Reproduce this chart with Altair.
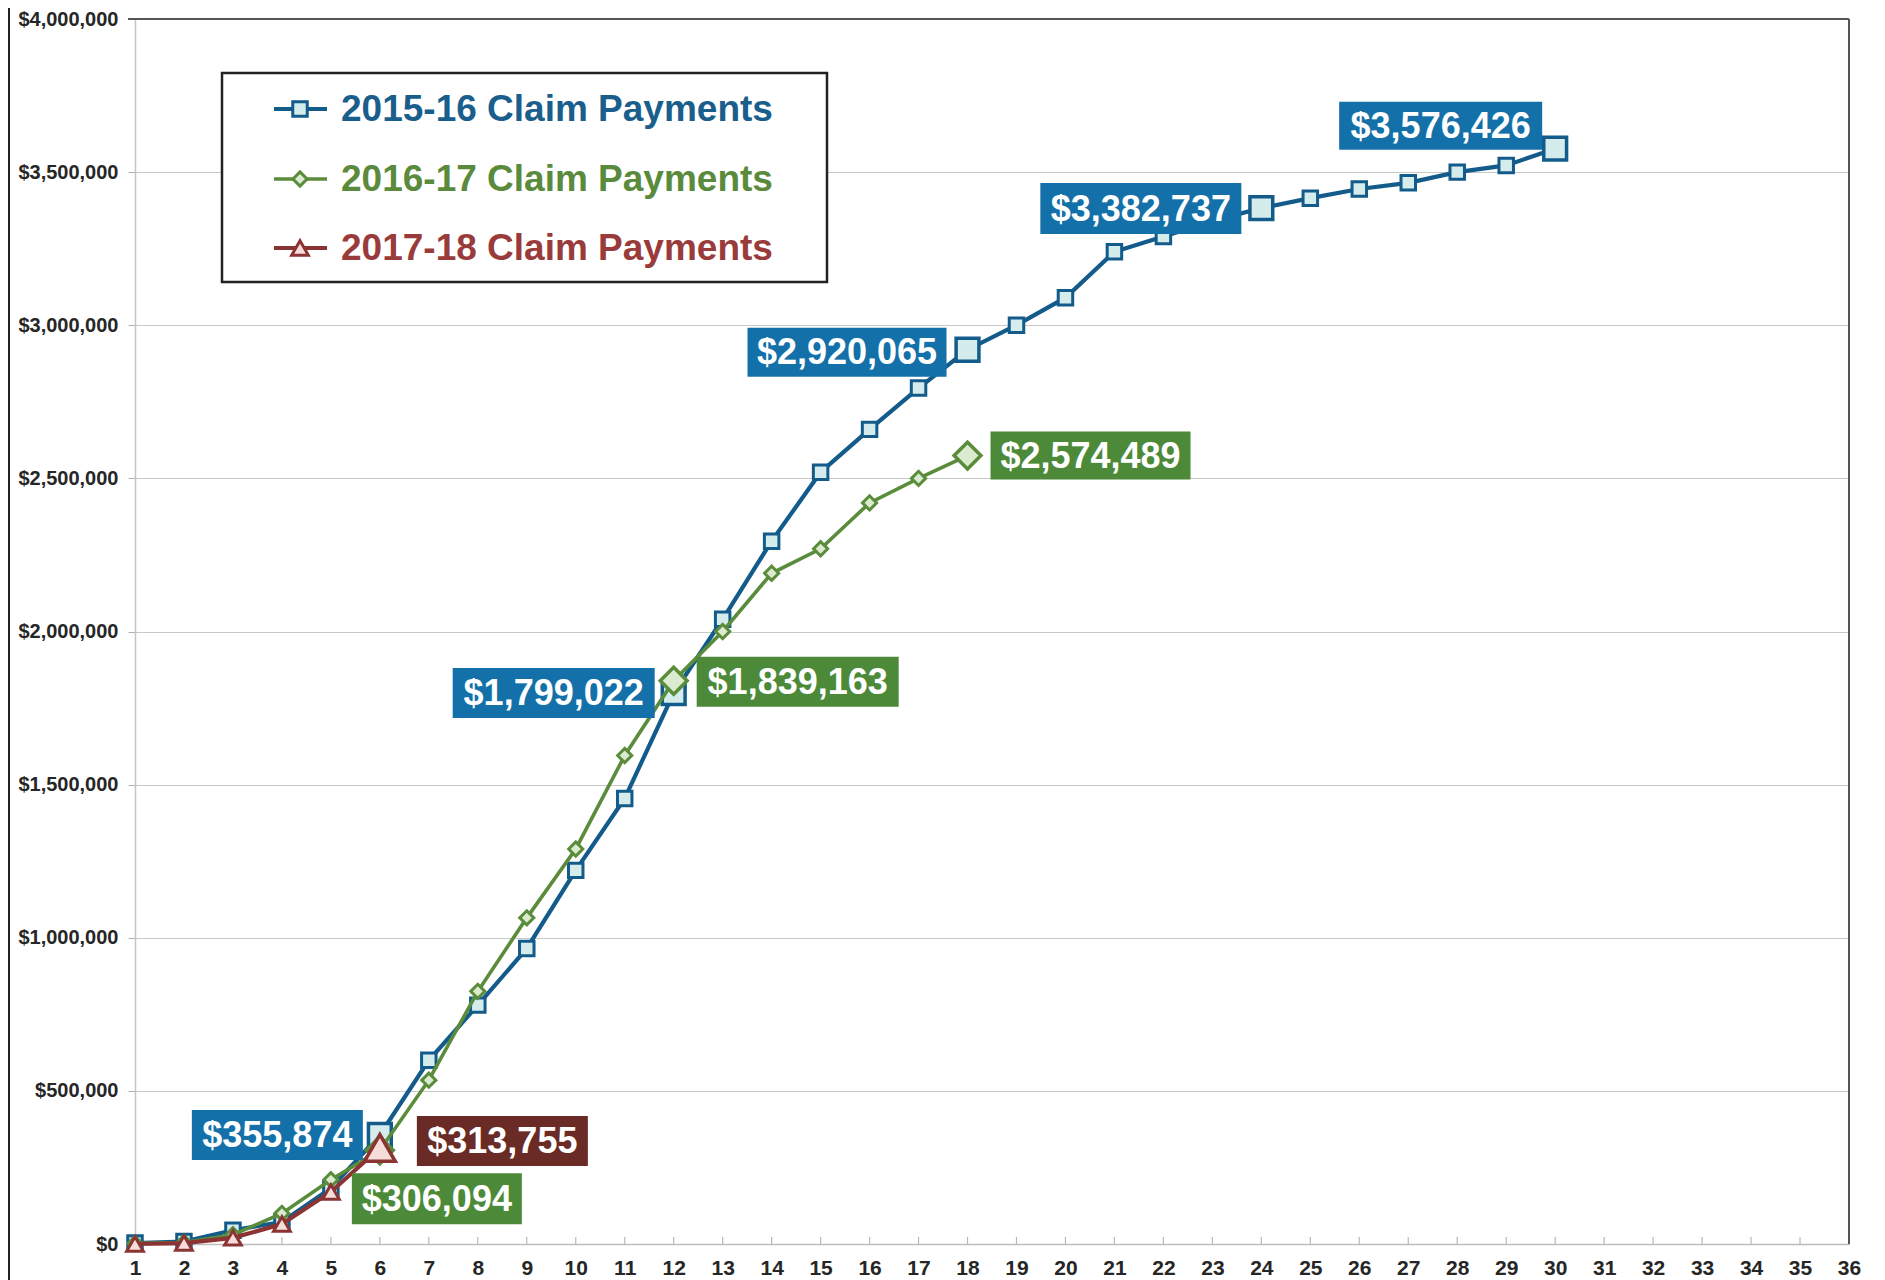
import altair as alt
import pandas as pd

# ---------------- data ----------------
months_all = list(range(1, 37))
series_names = ["2015-16 Claim Payments", "2016-17 Claim Payments", "2017-18 Claim Payments"]
pay_1516 = [3000, 8000, 45000, 72000, 182000, 355874, 600000, 780000, 965000, 1220000,
            1455000, 1799022, 2040000, 2295000, 2520000, 2660000, 2795000, 2920065, 3000000, 3090000,
            3240000, 3290000, 3340000, 3382737, 3415000, 3445000, 3465000, 3500000, 3522000, 3576426]
pay_1617 = [2000, 5000, 30000, 100000, 210000, 306094, 535000, 825000, 1065000, 1290000,
            1595000, 1839163, 2000000, 2190000, 2270000, 2420000, 2500000, 2574489]
pay_1718 = [0, 3000, 20000, 65000, 170000, 313755]
labeled_1516 = [6, 12, 18, 24, 30]
labeled_1617 = [6, 12, 18]
labeled_1718 = [6]
y_ticks = [0, 500000, 1000000, 1500000, 2000000, 2500000, 3000000, 3500000, 4000000]

rows = []
for name, vals in zip(series_names, [pay_1516, pay_1617, pay_1718]):
    for i, v in enumerate(vals):
        rows.append({"series": name, "month": i + 1, "value": v})
df = pd.DataFrame(rows)

# ---------------- styles ----------------
W, H = 1714, 1225
FONT = "Liberation Sans, Arial, sans-serif"
styles = {
    series_names[0]: dict(line="#135b8a", fill="#d5ecec", box="#1470a8", text="#1a5e8c",
                          shape="square", small=210, big=520, lw=4.2),
    series_names[1]: dict(line="#5a8c3c", fill="#dbebcf", box="#4c8a39", text="#5a8a3c",
                          shape="diamond", small=200, big=720, lw=3.6),
    series_names[2]: dict(line="#8c3434", fill="#f7ddd9", box="#6a2a25", text="#9a3b3b",
                          shape="triangle-up", small=280, big=950, lw=4.2),
}
labeled = {series_names[0]: labeled_1516, series_names[1]: labeled_1617, series_names[2]: labeled_1718}

xs = alt.Scale(domain=[1, 36], nice=False, zero=False)
ys = alt.Scale(domain=[0, 4000000], nice=False)

x_axis = alt.Axis(values=months_all, format="d", labelFontSize=21, labelColor="#262626",
                  labelFont=FONT, labelFontWeight="bold", tickSize=0, domainColor="#bdbdbd",
                  domainWidth=1.5, grid=False, labelPadding=13, title=None, labelFlush=False,
                  labelOverlap=False)
y_axis = alt.Axis(values=y_ticks, format="$,.0f", labelFontSize=20, labelColor="#262626",
                  labelFont=FONT, labelFontWeight="bold", tickSize=7, tickColor="#b0b0b0",
                  domainColor="#c4c4c4", domainWidth=1.5, grid=True, gridColor="#c8c8c8",
                  gridWidth=1.2, labelPadding=10, title=None)

X = alt.X("month:Q", scale=xs, axis=x_axis)
Y = alt.Y("value:Q", scale=ys, axis=y_axis)

dummy = pd.DataFrame({"a": [0]})
layers = []

# x tick marks pointing up
layers.append(alt.Chart(pd.DataFrame({"month": months_all})).mark_rule(color="#b8b8b8", strokeWidth=1.2)
              .encode(x=X, y=alt.value(H - 7), y2=alt.value(H)))

# top & right borders, left page border
layers.append(alt.Chart(dummy).mark_rule(color="#555", strokeWidth=2)
              .encode(x=alt.value(-7), x2=alt.value(W), y=alt.value(0)))
layers.append(alt.Chart(dummy).mark_rule(color="#555", strokeWidth=2)
              .encode(x=alt.value(W), y=alt.value(0), y2=alt.value(H)))
layers.append(alt.Chart(dummy).mark_rule(color="#222", strokeWidth=2)
              .encode(x=alt.value(-126), y=alt.value(-11), y2=alt.value(H + 36)))

# series lines and markers
for name in series_names:
    st = styles[name]
    base = alt.Chart(df).transform_filter(alt.datum.series == name)
    layers.append(base.mark_line(color=st["line"], strokeWidth=st["lw"]).encode(x=X, y=Y))
    layers.append(base.mark_point(filled=True, fill=st["fill"], stroke=st["line"], strokeWidth=3,
                                  size=st["small"], shape=st["shape"], opacity=1).encode(x=X, y=Y))
    layers.append(base.transform_filter(alt.FieldOneOfPredicate(field="month", oneOf=labeled[name]))
                  .mark_point(filled=True, fill=st["fill"], stroke=st["line"], strokeWidth=3.5,
                              size=st["big"], shape=st["shape"], opacity=1).encode(x=X, y=Y))

# data label boxes: (series, month, left, right, top, bottom) offsets from the point in px
label_specs = [
    (series_names[0], 6, -188, -17, -25, 25),
    (series_names[2], 6, 37, 208, -32, 18),
    (series_names[1], 6, -28, 142, 23, 74),
    (series_names[0], 12, -221, -19, -25, 25),
    (series_names[1], 12, 23, 225, -24, 26),
    (series_names[0], 18, -220, -21, -22, 27),
    (series_names[1], 18, 23, 223, -24, 24),
    (series_names[0], 24, -221, -20, -25, 26),
    (series_names[0], 30, -216, -13, -47, 1),
]
for name, m, l, r, t, b in label_specs:
    st = styles[name]
    base = alt.Chart(df).transform_filter((alt.datum.series == name) & (alt.datum.month == m))
    layers.append(base.mark_rect(fill=st["box"], xOffset=l, x2Offset=r, yOffset=t, y2Offset=b)
                  .encode(x=X, x2=alt.X2("month"), y=Y, y2=alt.Y2("value")))
    layers.append(base.mark_text(color="white", font=FONT, fontSize=36, fontWeight="bold",
                                 align="center", baseline="middle",
                                 dx=(l + r) / 2, dy=(t + b) / 2 + 1)
                  .encode(x=X, y=Y, text=alt.Text("value:Q", format="$,.0f")))

# custom legend
layers.append(alt.Chart(dummy).mark_rect(fill="white", stroke="#222", strokeWidth=2.5)
              .encode(x=alt.value(87), x2=alt.value(692), y=alt.value(54), y2=alt.value(263)))
row_y = [90, 160, 229]
for i, name in enumerate(series_names):
    st = styles[name]
    ld = pd.DataFrame({"name": [name]})
    layers.append(alt.Chart(ld).mark_rule(color=st["line"], strokeWidth=st["lw"])
                  .encode(x=alt.value(139), x2=alt.value(192), y=alt.value(row_y[i])))
    layers.append(alt.Chart(ld).mark_point(filled=True, fill=st["fill"], stroke=st["line"],
                                           strokeWidth=3, size=st["small"], shape=st["shape"], opacity=1)
                  .encode(x=alt.value(165), y=alt.value(row_y[i])))
    layers.append(alt.Chart(ld).mark_text(color=st["text"], font=FONT, fontSize=37, fontWeight="bold",
                                          align="left", baseline="middle")
                  .encode(text="name:N", x=alt.value(206), y=alt.value(row_y[i] + 1)))

chart = alt.layer(*layers).properties(
    width=W, height=H,
    autosize=alt.AutoSizeParams(type="none"),
    padding={"left": 127, "top": 11, "right": 16, "bottom": 36},
    background="white",
).configure_view(stroke=None)

chart.save("out.html", embed_options={"renderer": "svg", "actions": False})
